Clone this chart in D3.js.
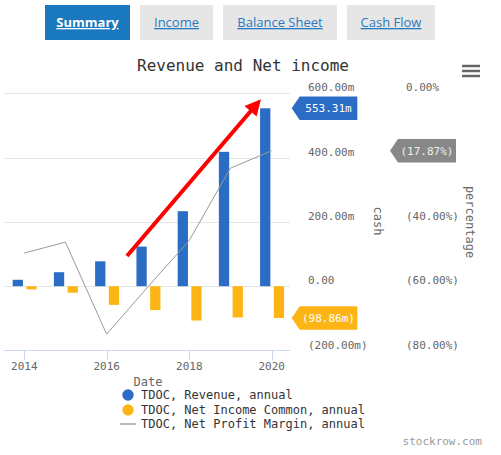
<!DOCTYPE html>
<html>
<head>
<meta charset="utf-8">
<script src="https://cdnjs.cloudflare.com/ajax/libs/d3/7.8.5/d3.min.js"></script>
<style>
  body { margin: 0; background: #fff; }
  svg { display: block; }
  text { font-family: "DejaVu Sans Mono", monospace; }
  .tab { font-family: "Open Sans", sans-serif; }
</style>
</head>
<body>
<div id="chart"></div>
<script>
// fiscal year-end dates (plotted at the end of each year)
var dates = ["2013-12-31", "2014-12-31", "2015-12-31", "2016-12-31", "2017-12-31", "2018-12-31", "2019-12-31"];
var revenue = [19.9, 43.5, 77.4, 123.2, 233.3, 417.9, 553.31];      // millions
var netIncome = [-9.9, -20.1, -58.1, -74.2, -106.8, -97.2, -98.86];  // millions
var margin = [-49.7, -46.3, -74.9, -60.2, -45.8, -23.3, -17.87];     // percent
var cashTicks = [600, 400, 200, 0, -200];
var pctTicks = [0, -40, -60, -80];   // (20.00%) sits under the badge
var yearTicks = [2014, 2016, 2018, 2020];
var tabs = ["Summary", "Income", "Balance Sheet", "Cash Flow"];
var legendItems = ["TDOC, Revenue, annual", "TDOC, Net Income Common, annual", "TDOC, Net Profit Margin, annual"];

var W = 501, H = 455;
var blue = "#2b6cc4", yellow = "#fdb515", grey = "#999";

var svg = d3.select("#chart").append("svg")
    .attr("width", W)
    .attr("height", H);

// tabs across the top
var tabPos = [[45, 130], [140, 213], [223, 337], [347, 435]];
var tab = svg.selectAll(".tabg")
    .data(tabs)
    .enter().append("g");
tab.append("rect")
    .attr("x", function (d, i) { return tabPos[i][0]; })
    .attr("y", 5)
    .attr("width", function (d, i) { return tabPos[i][1] - tabPos[i][0]; })
    .attr("height", 35)
    .attr("fill", function (d, i) { return i == 0 ? "#1a78be" : "#e6e6e6"; });
tab.append("text")
    .attr("class", "tab")
    .attr("x", function (d, i) { return (tabPos[i][0] + tabPos[i][1]) / 2; })
    .attr("y", 27)
    .attr("text-anchor", "middle")
    .attr("font-size", "13px")
    .attr("font-weight", function (d, i) { return i == 0 ? "bold" : "normal"; })
    .attr("text-decoration", "underline")
    .attr("fill", function (d, i) { return i == 0 ? "#fff" : "#2a7ac2"; })
    .text(function (d) { return d; });

// title
svg.append("text")
    .attr("x", 243)
    .attr("y", 71)
    .attr("text-anchor", "middle")
    .attr("font-size", "16px")
    .attr("fill", "#333")
    .text("Revenue and Net income");

// hamburger menu
svg.selectAll(".burger")
    .data([66, 71, 76])
    .enter().append("line")
    .attr("x1", 462).attr("x2", 480)
    .attr("y1", function (d) { return d; })
    .attr("y2", function (d) { return d; })
    .attr("stroke", "#666")
    .attr("stroke-width", 2.5);

// scales
var x = d3.scaleTime()
    .domain([new Date(2014, 0, 1), new Date(2020, 0, 1)])
    .range([24.3, 271.7]);
var yCash = d3.scaleLinear().domain([-200, 600]).range([350.5, 93.3]);
var yPct = d3.scaleLinear().domain([-80, 0]).range([350.5, 93.3]);
var offset = d3.scaleBand().domain(["rev", "ni"]).range([-11.5, 12.5]).paddingInner(0.25);
var parse = d3.timeParse("%Y-%m-%d");
var dt = dates.map(parse);

var plotL = 4, plotR = 290;

// gridlines
svg.selectAll(".grid")
    .data(cashTicks.slice(0, 4))
    .enter().append("line")
    .attr("x1", plotL).attr("x2", plotR)
    .attr("y1", function (d) { return Math.round(yCash(d)) + 0.5; })
    .attr("y2", function (d) { return Math.round(yCash(d)) + 0.5; })
    .attr("stroke", "#e6e6e6");

// x axis
svg.append("line")
    .attr("x1", plotL).attr("x2", plotR)
    .attr("y1", 350.5).attr("y2", 350.5)
    .attr("stroke", "#ccd6eb");
svg.selectAll(".xtick")
    .data(yearTicks)
    .enter().append("line")
    .attr("x1", function (d) { return Math.round(x(new Date(d, 0, 1))) + 0.5; })
    .attr("x2", function (d) { return Math.round(x(new Date(d, 0, 1))) + 0.5; })
    .attr("y1", 350).attr("y2", 360)
    .attr("stroke", "#ccd6eb");
svg.selectAll(".xlab")
    .data(yearTicks)
    .enter().append("text")
    .attr("x", function (d) { return x(new Date(d, 0, 1)); })
    .attr("y", 370)
    .attr("text-anchor", "middle")
    .attr("font-size", "11px")
    .attr("fill", "#666")
    .text(function (d) { return d; });
svg.append("text")
    .attr("x", 148).attr("y", 386)
    .attr("text-anchor", "middle")
    .attr("font-size", "12px")
    .attr("fill", "#666")
    .text("Date");

// bars
svg.selectAll(".rev")
    .data(revenue)
    .enter().append("rect")
    .attr("x", function (d, i) { return x(dt[i]) + offset("rev"); })
    .attr("width", offset.bandwidth())
    .attr("y", function (d) { return yCash(d); })
    .attr("height", function (d) { return yCash(0) - yCash(d); })
    .attr("fill", blue);
svg.selectAll(".ni")
    .data(netIncome)
    .enter().append("rect")
    .attr("x", function (d, i) { return x(dt[i]) + offset("ni"); })
    .attr("width", offset.bandwidth())
    .attr("y", yCash(0))
    .attr("height", function (d) { return yCash(d) - yCash(0); })
    .attr("fill", yellow);

// margin line
var line = d3.line()
    .x(function (d, i) { return x(dt[i]); })
    .y(function (d) { return yPct(d); });
svg.append("path")
    .datum(margin)
    .attr("d", line)
    .attr("fill", "none")
    .attr("stroke", grey)
    .attr("stroke-width", 1);

// right axes labels
svg.selectAll(".cashlab")
    .data(cashTicks)
    .enter().append("text")
    .attr("x", 308)
    .attr("y", function (d) { return yCash(d) - 2; })
    .attr("font-size", "11px")
    .attr("fill", "#666")
    .text(function (d) {
        if (d == 0) return "0.00";
        var s = Math.abs(d).toFixed(2) + "m";
        return d < 0 ? "(" + s + ")" : s;
    });
svg.selectAll(".pctlab")
    .data(pctTicks)
    .enter().append("text")
    .attr("x", 406)
    .attr("y", function (d) { return yPct(d) - 2; })
    .attr("font-size", "11px")
    .attr("fill", "#666")
    .text(function (d) {
        var s = Math.abs(d).toFixed(2) + "%";
        return d < 0 ? "(" + s + ")" : s;
    });
svg.append("text")
    .attr("transform", "translate(374,221) rotate(90)")
    .attr("text-anchor", "middle")
    .attr("font-size", "12px")
    .attr("fill", "#666")
    .text("cash");
svg.append("text")
    .attr("transform", "translate(466,222) rotate(90)")
    .attr("text-anchor", "middle")
    .attr("font-size", "12px")
    .attr("fill", "#666")
    .text("percentage");

// last-value badges
function badge(xl, xr, yc, color, label, tcol) {
    var h = 11.7;
    svg.append("path")
        .attr("d", "M" + xl + "," + yc + "L" + (xl + 8) + "," + (yc - h) + "L" + xr + "," + (yc - h) +
            "L" + xr + "," + (yc + h) + "L" + (xl + 8) + "," + (yc + h) + "Z")
        .attr("fill", color);
    svg.append("text")
        .attr("x", (xl + 8 + xr) / 2)
        .attr("y", yc + 4)
        .attr("text-anchor", "middle")
        .attr("font-size", "11px")
        .attr("fill", tcol)
        .text(label);
}
var n = revenue.length - 1;
badge(291.7, 357.3, yCash(revenue[n]), blue, revenue[n].toFixed(2) + "m", "#fff");
badge(291.7, 357.3, yCash(netIncome[n]), yellow, "(" + Math.abs(netIncome[n]).toFixed(2) + "m)", "#fff");
badge(390, 456, yPct(margin[n]), "#888", "(" + Math.abs(margin[n]).toFixed(2) + "%)", "#eee");

// red arrow annotation
var defs = svg.append("defs");
defs.append("marker")
    .attr("id", "head")
    .attr("viewBox", "0 0 10 10")
    .attr("refX", 6).attr("refY", 5)
    .attr("markerWidth", 4.5).attr("markerHeight", 4)
    .attr("orient", "auto")
    .append("path")
    .attr("d", "M0,0L10,5L0,10Z")
    .attr("fill", "#ff0000");
svg.append("line")
    .attr("x1", 127).attr("y1", 256)
    .attr("x2", 256.8).attr("y2", 104)
    .attr("stroke", "#ff0000")
    .attr("stroke-width", 4)
    .attr("marker-end", "url(#head)");

// legend
var leg = svg.selectAll(".leg")
    .data(legendItems)
    .enter().append("g")
    .attr("transform", function (d, i) { return "translate(0," + [395, 410, 424][i] + ")"; });
leg.each(function (d, i) {
    var g = d3.select(this);
    if (i < 2) {
        g.append("circle").attr("cx", 128).attr("cy", 0).attr("r", 5.7)
            .attr("fill", i == 0 ? blue : yellow);
    } else {
        g.append("line").attr("x1", 120).attr("x2", 136).attr("y1", 0).attr("y2", 0)
            .attr("stroke", "#bbb").attr("stroke-width", 2);
    }
    g.append("text")
        .attr("x", 141)
        .attr("y", 4)
        .attr("font-size", "12px")
        .attr("fill", "#333")
        .text(d);
});

// watermark
svg.append("text")
    .attr("x", 482).attr("y", 445)
    .attr("text-anchor", "end")
    .attr("font-size", "11px")
    .attr("fill", "#999")
    .text("stockrow.com");
</script>
</body>
</html>
